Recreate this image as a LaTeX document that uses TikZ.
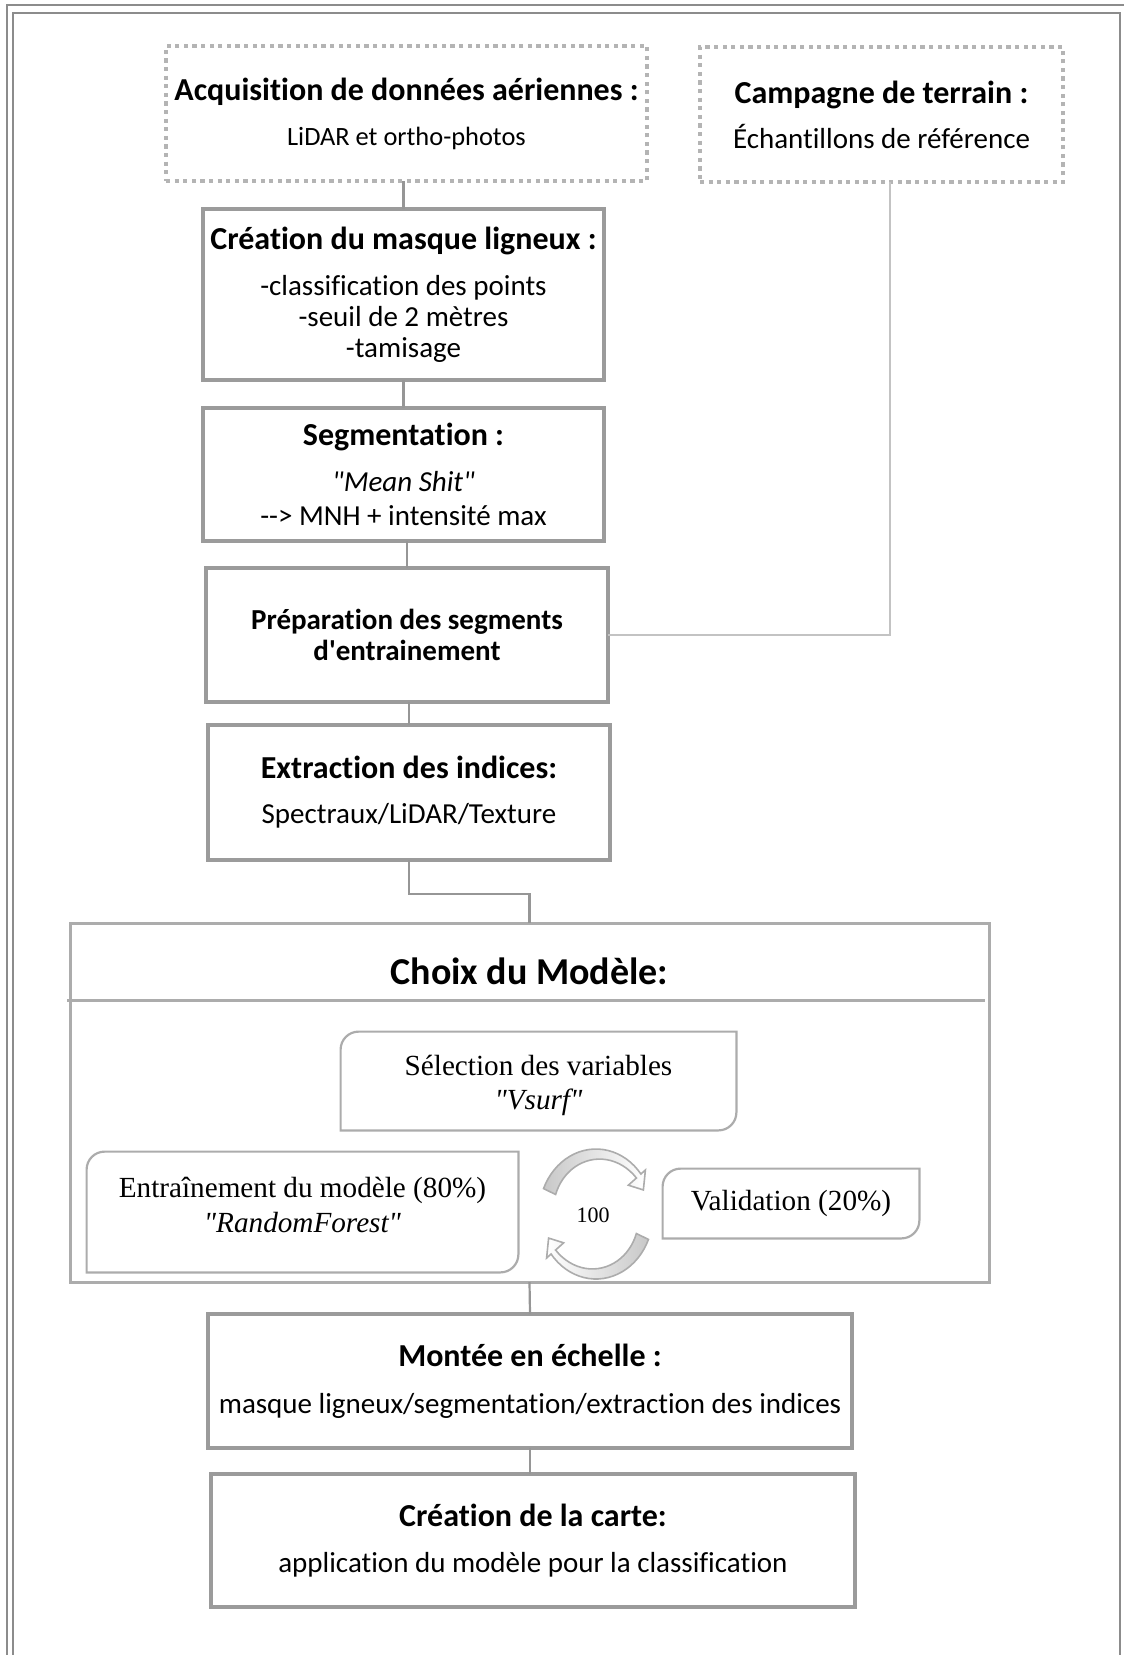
\documentclass[tikz,border=0pt]{standalone}
\usepackage{fontspec}
\setmainfont{Carlito}[Ligatures={TeXOff,NoCommon}]
\newfontfamily\timesfont{Liberation Serif}[Ligatures={TeXOff,NoCommon}]
\usetikzlibrary{positioning,calc}

\definecolor{boxgray}{RGB}{155,155,155}
\definecolor{framegray}{RGB}{140,140,140}
\definecolor{linkgray}{RGB}{150,150,150}
\definecolor{fieldgray}{RGB}{195,195,195}
\definecolor{modelgray}{RGB}{172,172,172}
\definecolor{arcfill}{RGB}{200,200,200}

\newcommand\boxtitle[1]{{\fontsize{16}{19}\selectfont\bfseries #1}}
% model boxes: rounded top left and bottom right only
\newcommand\diagframe[1]{%
  \draw[modelline] (#1.west) [rounded corners=9pt] -- (#1.north west) -- (#1.north)
    [sharp corners] -- (#1.north east) -- (#1.east)
    [rounded corners=9pt] -- (#1.south east) -- (#1.south)
    [sharp corners] -- (#1.south west) -- cycle;}

\begin{document}
\begin{tikzpicture}[
  x=0.5pt, y=-0.5pt,
  font=\fontsize{14.5}{15.5}\selectfont,
  node distance=13.5pt,
  stepbox/.style={draw=boxgray, line width=1.6pt, outer sep=0pt, align=center, inner sep=2pt, minimum width=200.5pt, minimum height=67pt},
  source/.style={draw=boxgray!75, line width=2.1pt, outer sep=0pt, dash pattern=on 2.1pt off 2.2pt, align=center, minimum height=67.5pt},
  modelbox/.style={align=center, inner sep=2pt, font=\timesfont\fontsize{14.6}{17.4}\selectfont},
  modelline/.style={draw=modelgray, line width=1.1pt},
  link/.style={draw=linkgray, line width=1.1pt},
  fieldlink/.style={draw=fieldgray, line width=1.1pt},
  turn/.style={draw=modelgray, line width=0.8pt}
]
\useasboundingbox (0,0) rectangle (1124,1655);

% page frame
\draw[framegray, line width=1pt] (7,5) rectangle (1130,1700);
\draw[framegray, line width=1pt] (13,13) rectangle (1120,1700);

% Sources
\node[source, minimum width=240.5pt] (acq) at (406.5,113.5) {
  \boxtitle{Acquisition de données aériennes :}\\[7pt]
  {\fontsize{13.2}{15.5}\selectfont LiDAR et ortho-photos}
};
\node[source, minimum width=181.5pt] (camp) at (881.5,114.5) {
  \boxtitle{Campagne de terrain :}\\[7pt]
  Échantillons de référence
};

% Processing chain
\node[stepbox, minimum height=85.5pt, below=14pt of acq, xshift=-1.5pt] (masque) {
  \boxtitle{Création du masque ligneux :}\\[7.5pt]
  -classification des points\\
  -seuil de 2 mètres\\
  -tamisage
};
\node[stepbox, minimum height=66.5pt, below=14pt of masque] (seg) {
  \boxtitle{Segmentation :}\\[7.5pt]
  \textit{"Mean Shit"}\\[1.5pt]
  -{}-> MNH + intensité max
};
\node[stepbox, minimum width=201pt, below=13.5pt of seg, xshift=1.75pt,
      font=\fontsize{14.5}{15.3}\selectfont\bfseries] (prep) {
  Préparation des segments\\
  d'entrainement
};
\node[stepbox, minimum width=201pt, minimum height=67.5pt, below=11.5pt of prep, xshift=1pt] (extr) {
  \boxtitle{Extraction des indices:}\\[7pt]
  Spectraux/LiDAR/Texture
};

\draw[link] (acq.south -| masque.north) -- (masque.north);
\draw[link] (masque.south) -- (seg.north);
\draw[link] (prep.north |- seg.south) -- (prep.north);
\draw[link] (extr.north |- prep.south) -- (extr.north);
\draw[fieldlink] ([xshift=4.25pt]camp.south) |- (prep.east);

% Model choice
\node[draw=modelgray, line width=1.5pt, outer sep=0pt, minimum width=459.5pt, minimum height=179.5pt] (choix) at (529.5,1102.5) {};
\draw[modelgray, line width=1.5pt] ([xshift=-1.5pt,yshift=-38.5pt]choix.north west) -- ([xshift=-2pt,yshift=-38.5pt]choix.north east);
\node[font=\fontsize{19}{22}\selectfont\bfseries] (choixtitle) at (529.5,971) {Choix du Modèle:};

\node[modelbox, minimum width=197.5pt, minimum height=49pt, text height=32pt] (vsurf) at (538.5,1081) {
  Sélection des variables\\
  \textit{"Vsurf"}
};
\node[modelbox, minimum width=215.5pt, minimum height=60pt, text depth=7.5pt] (train) at (302.5,1212) {
  Entraînement du modèle (80\%)\\
  \textit{"RandomForest"}
};
\node[modelbox, minimum width=128pt, minimum height=34.5pt] (valid) at (791,1203.5) {Validation (20\%)};
\diagframe{vsurf}
\diagframe{train}
\diagframe{valid}

% iteration loop
\coordinate (loop) at (596,1214);
\node[font=\timesfont\fontsize{11}{13}\selectfont] (iter) at (593,1215) {100};
\foreach \spin/\lc/\rc in {0/arcfill/white, 180/white/arcfill}
  \draw[turn, left color=\lc, right color=\rc, rotate around={\spin:(loop)}]
    plot[domain=157:38, samples=25] ({596+57*cos(\x)},{1214-65*sin(\x)})
    -- ({596+57*1.1*cos(38)},{1214-65*1.1*sin(38)})
    -- ({596+57*0.91*cos(24)},{1214-65*0.91*sin(24)})
    -- ({596+57*0.72*cos(38)},{1214-65*0.72*sin(38)})
    -- plot[domain=38:157, samples=25] ({596+57*(0.9-0.0011*(\x-38))*cos(\x)},{1214-65*(0.9-0.0011*(\x-38))*sin(\x)})
    -- cycle;

% Output
\node[stepbox, minimum width=322pt, below=16pt of choix, xshift=0.25pt] (montee) {
  \boxtitle{Montée en échelle :}\\[8pt]
  masque ligneux/segmentation/extraction des indices
};
\node[stepbox, minimum width=322pt, minimum height=66.5pt, below=13pt of montee, xshift=1.5pt] (carte) {
  \boxtitle{Création de la carte:}\\[7.5pt]
  application du modèle pour la classification
};

\draw[link] (extr.south) -- ++(0,34) -| (choix.north);
\draw[link] (choix.south) -- (montee.north);
\draw[link] (montee.south) -- (montee.south |- carte.north);

\end{tikzpicture}
\end{document}
